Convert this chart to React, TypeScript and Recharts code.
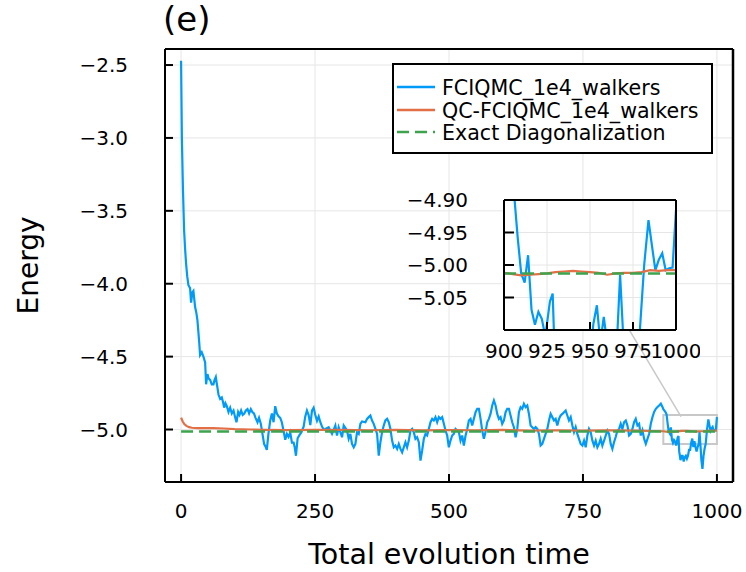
import { LineChart, Line, XAxis, YAxis, CartesianGrid, ReferenceArea, ReferenceLine } from 'recharts';

// [time, energy] pairs
const fciqmc: [number, number][] = [
  [0, -2.47], [1.5, -3.0], [3.5, -3.35], [5.6, -3.63], [7.5, -3.76], [9.3, -3.86], [11.5, -3.95], [13.7, -4.01],
  [16.8, -4.03], [18.7, -4.13], [21, -4.06], [23, -4.05], [26.2, -4.16], [28.5, -4.2], [30.5, -4.25], [33.6, -4.39],
  [35.5, -4.49], [38.6, -4.47], [41.7, -4.5], [44.9, -4.54], [46.7, -4.69], [49.2, -4.62], [51.5, -4.65], [54.2, -4.66],
  [57.3, -4.69], [60.4, -4.69], [62.5, -4.66], [64.8, -4.64], [67.3, -4.7], [69.8, -4.76], [72.9, -4.79], [76, -4.78],
  [78.2, -4.81], [80.4, -4.85], [82.8, -4.82], [85.4, -4.84], [88.5, -4.88], [91.6, -4.85], [94.7, -4.89], [97.9, -4.87],
  [100.5, -4.91], [103.4, -4.95], [106.5, -4.88], [109, -4.9], [112, -4.87], [115, -4.9], [118, -4.89], [120.9, -4.87],
  [124, -4.86], [127, -4.89], [130.2, -4.86], [133, -4.88], [136, -4.89], [139, -4.92], [142.6, -4.95], [145.5, -4.92],
  [148.8, -4.96], [151.9, -5.03], [155, -5.1], [158, -5.12], [160, -5.14], [163, -5.03], [166.3, -4.94], [169.5, -4.89],
  [172.6, -4.95], [175.7, -4.84], [178.8, -4.89], [181.9, -4.91], [185, -4.92], [188, -4.95], [191.3, -5.01], [194.4, -5.07],
  [197.5, -5.03], [200.6, -5.05], [203.7, -5.02], [206.9, -5.09], [210, -5.09], [212, -5.12], [214.4, -5.18], [217.5, -5.06],
  [220.6, -5.04], [224.4, -5.02], [228.7, -4.98], [231.8, -4.91], [234.9, -4.87], [238, -4.9], [241.2, -4.97], [244.3, -4.87],
  [247.4, -4.85], [250.5, -4.9], [253.7, -4.94], [256.8, -4.91], [259.9, -4.95], [263, -4.98], [266.2, -5.0],
  [269.2, -4.996], [275.4, -4.984], [281.7, -5.03], [287.9, -4.973], [291, -5.041], [294.1, -4.984], [300.4, -5.053],
  [303.5, -4.973], [309.7, -5.007], [312.8, -5.064], [315.9, -5.03], [319, -5.099], [322.2, -5.122], [325.3, -5.099],
  [328.4, -5.018], [331.5, -5.03], [334.6, -4.961], [337.7, -4.945], [344, -4.95], [347.1, -4.927], [350.2, -4.915],
  [353.3, -4.904], [356.4, -4.938], [359.5, -4.961], [362.7, -4.996], [365.8, -5.03], [368.9, -5.179], [372, -5.087],
  [375.1, -5.018], [378.2, -4.973], [381.3, -4.938], [384.5, -4.927], [387.6, -4.95], [390.7, -4.996], [393.8, -5.076],
  [396.9, -5.122], [400, -5.11], [403.2, -5.133], [406.3, -5.099], [409.4, -5.133], [412.5, -5.156], [415.6, -5.122],
  [418.7, -5.087], [421.8, -5.122], [425, -5.076], [428.1, -5.007], [431.2, -4.996], [434.3, -5.018], [437.4, -5.064],
  [440.5, -5.053], [443.7, -5.087], [446.8, -5.213], [449.9, -5.144], [453, -5.064], [456.1, -5.03], [459.2, -5.041],
  [462.3, -4.996], [465.5, -4.95], [468.6, -4.927], [471.7, -4.938], [474.8, -4.915], [477.9, -4.95], [481, -4.915],
  [484.1, -4.927], [487.3, -4.915], [490.4, -4.961], [493.5, -5.007], [496.6, -5.041], [499.7, -5.122], [502.8, -5.076],
  [505.9, -5.041], [509, -5.03], [512.2, -4.996], [515.3, -5.007], [518.4, -5.018], [521.5, -5.076], [524.6, -5.041],
  [527.7, -5.11], [530.9, -5.041], [534, -4.996], [537.1, -4.938], [540.2, -4.927], [543.3, -4.973], [546.4, -4.927],
  [549.6, -4.881], [552.7, -4.858], [555.8, -4.858], [558.9, -4.927], [562, -5.007], [565.1, -5.064], [568.2, -5.018],
  [571.3, -4.95], [574.4, -4.927], [577.5, -4.893], [580.7, -4.835], [583.8, -4.801], [586.9, -4.835], [590, -4.893],
  [593.1, -4.927], [596.2, -4.915], [599.3, -4.961], [602.5, -4.938], [605.6, -4.881], [608.7, -4.858], [611.8, -4.858],
  [614.9, -4.904], [618, -4.95], [621.1, -4.984], [624.3, -5.053], [627.4, -4.996], [630.5, -4.881], [633.6, -4.847],
  [636.7, -4.858], [639.8, -4.824], [643, -4.847], [646.1, -4.835], [649.2, -4.893], [652.3, -4.973], [655.4, -4.984],
  [658.5, -4.996], [661.6, -4.984], [664.8, -4.996], [667.9, -5.03], [671, -5.11], [674.1, -5.099], [677.2, -5.064],
  [680.3, -5.03], [683.5, -4.996], [686.6, -4.938], [689.7, -4.893], [692.8, -4.915], [695.9, -4.938], [699, -4.927],
  [702.1, -4.973], [705.3, -4.927], [708.4, -4.904], [711.5, -4.893], [714.6, -4.881], [717.7, -4.87], [720.8, -4.904],
  [723.9, -4.938], [727.1, -4.915], [730.2, -4.973], [733.3, -5.018], [736.4, -4.984], [739.5, -5.03], [742.6, -5.064],
  [745.7, -5.099], [748.9, -5.11], [752, -5.076], [755.1, -5.122], [758.2, -5.041], [761.3, -4.996], [764.4, -5.018],
  [767.6, -5.076], [770.7, -5.11], [773.8, -5.076], [776.9, -5.122], [780, -5.099], [783.1, -5.064], [786.2, -5.11],
  [789.4, -5.076], [792.5, -5.041], [795.6, -5.007], [798.7, -5.03], [801.8, -5.099], [804.9, -5.133], [808, -5.087],
  [811.2, -5.05], [814.3, -5.007], [817.4, -4.996], [820.5, -4.961], [823.6, -4.996], [826.7, -4.95], [829.9, -4.938],
  [833, -4.973], [836.1, -5.041], [839.2, -5.03], [842.3, -4.996], [845.4, -4.95], [848.5, -4.927], [851.7, -4.972],
  [854.8, -4.961], [857.9, -5.041], [861, -5.006], [864.2, -5.064], [867.3, -5.098], [870.4, -5.064], [873.5, -5.029],
  [876.6, -4.961], [879.7, -4.915], [882.8, -4.88], [886, -4.858], [889.1, -4.846], [892.2, -4.835], [895.3, -4.823],
  [898.4, -4.846], [900, -4.86], [902, -4.87], [904, -4.88], [906, -4.895], [908, -4.959], [910, -5.013], [912, -5.027],
  [914, -4.985], [916, -5.069], [918, -5.092], [920, -5.072], [922, -5.083], [924, -5.11], [926.7, -5.056], [928.3, -5.044],
  [929.6, -5.15], [932, -5.21], [934, -5.18], [936, -5.18], [938, -5.22], [940, -5.19], [942, -5.18], [944, -5.2],
  [946, -5.18], [948, -5.14], [950, -5.14], [952, -5.09], [954, -5.062], [956, -5.12], [958, -5.08], [960, -5.12],
  [962, -5.15], [964, -5.12], [966, -5.1], [967.5, -5.015], [969.5, -5.12], [971, -5.21], [973, -5.27], [975, -5.18],
  [977, -5.13], [979, -5.1], [981.5, -5.0], [984, -4.931], [986, -4.97], [988, -5.008], [990, -4.992], [992, -4.982],
  [994, -5.008], [996, -5.005], [998, -5.004], [1000, -4.915],
];

const qcFciqmc: [number, number][] = [
  [0, -4.918], [3, -4.945], [6, -4.963], [10, -4.975], [15, -4.984], [20, -4.988], [30, -4.99], [40, -4.991],
  [60, -4.99], [80, -4.993], [100, -4.997], [130, -5.0], [160, -5.003], [200, -5.004], [250, -5.003], [300, -5.002],
  [350, -5.005], [400, -5.003], [450, -5.006], [500, -5.004], [550, -5.005], [600, -5.003], [650, -5.008], [700, -5.005],
  [750, -5.007], [800, -5.006], [850, -5.008], [900, -5.012], [905, -5.014], [910, -5.016], [915, -5.015], [920, -5.014],
  [925, -5.013], [930, -5.011], [935, -5.01], [940, -5.009], [945, -5.01], [950, -5.011], [955, -5.012], [960, -5.015],
  [965, -5.013], [970, -5.012], [975, -5.012], [980, -5.011], [985, -5.008], [990, -5.009], [995, -5.008], [1000, -5.008],
];

const exactEnergy = -5.013;
const exactSpan = [0, 1000];

const mainXTicks = [0, 250, 500, 750, 1000];
const mainYTicks = [-5.0, -4.5, -4.0, -3.5, -3.0, -2.5];
const insetXTicks = [900, 925, 950, 975, 1000];
const insetYTicks = [-5.05, -5.0, -4.95, -4.9];

const lensBox = { x1: 900, x2: 1000, y1: -5.1, y2: -4.9 };
const lensLink = [{ x: 837, y: -4.32 }, { x: 933, y: -4.911 }];

const seriesNames = ['FCIQMC_1e4_walkers', 'QC-FCIQMC_1e4_walkers', 'Exact Diagonalization'];

const BLUE = '#009af9';
const ORANGE = '#e26f46';
const GREEN = '#3da44d';
const GRID = '#e6e6e6';
const FONT = "'DejaVu Sans', sans-serif";

const toRows = (pairs: [number, number][]) => pairs.map(([t, e]) => ({ t, e }));
const fciqmcData = toRows(fciqmc);
const qcData = toRows(qcFciqmc);
const exactData = exactSpan.map(t => ({ t, e: exactEnergy }));

const minus = (s: string) => s.replace('-', '\u2212');
const tickStyle = { fill: '#000', fontSize: 20, fontFamily: FONT };
const frame = { stroke: '#000', strokeWidth: 2 };

const TitleLabel = (props: any) => {
  const { x, y, height } = props.viewBox;
  return <text x={x - 2} y={y + height - 18} fontSize={34} fontFamily={FONT} fill="#000">(e)</text>;
};

const XLabel = (props: any) => {
  const { x, y, width } = props.viewBox;
  return <text x={x + width / 2} y={y + 82} textAnchor="middle" fontSize={28.5} fontFamily={FONT} fill="#000">Total evolution time</text>;
};

const YLabel = (props: any) => {
  const { x, y, width, height } = props.viewBox;
  const cx = x + width - 137;
  const cy = y + height / 2;
  return (
    <text x={cx} y={cy} transform={`rotate(-90, ${cx}, ${cy})`} textAnchor="middle" dominantBaseline="central"
      fontSize={28} fontFamily={FONT} fill="#000">Energy</text>
  );
};

function Legend() {
  const colors = [BLUE, ORANGE, GREEN];
  const rows = [24, 47, 69];
  return (
    <svg width={321} height={91} style={{ position: 'absolute', left: 392, top: 63 }}>
      <rect x={1} y={1} width={319} height={89} fill="#fff" stroke="#000" strokeWidth={2} />
      {seriesNames.map((name, i) => (
        <g key={name}>
          <line x1={5} x2={43} y1={rows[i]} y2={rows[i]} stroke={colors[i]} strokeWidth={2.5}
            strokeDasharray={i === 2 ? '12 6' : undefined} />
          <text x={50} y={rows[i] + 8} fontSize={20.6} fontFamily={FONT} fill="#000">{name}</text>
        </g>
      ))}
    </svg>
  );
}

export default function App() {
  return (
    <div style={{ position: 'absolute', left: 0, top: 0, width: 746, height: 572, background: '#fff' }}>
      <LineChart width={746} height={572} margin={{ top: 48, right: 12, bottom: 89, left: 164 }}>
        <CartesianGrid stroke={GRID} strokeWidth={1} />
        <XAxis type="number" dataKey="t" domain={[-30, 1030]} ticks={mainXTicks} interval={0} height={1}
          tickSize={-8} tickMargin={30} axisLine={frame} tickLine={frame} tick={tickStyle}
          label={<XLabel />} />
        <YAxis type="number" dataKey="e" domain={[-5.36, -2.39]} ticks={mainYTicks} interval={0} width={1}
          tickSize={-8} tickMargin={45} axisLine={frame} tickLine={frame} tick={tickStyle}
          tickFormatter={(v: number) => minus(v.toFixed(1))} label={<YLabel />} />
        <XAxis xAxisId="top" orientation="top" type="number" domain={[0, 1]} height={1} tick={false}
          tickLine={false} axisLine={frame} label={<TitleLabel />} />
        <YAxis yAxisId="right" orientation="right" type="number" domain={[0, 1]} width={1} tick={false}
          tickLine={false} axisLine={{ stroke: '#000', strokeWidth: 2.5 }} />
        <Line data={fciqmcData} dataKey="e" stroke={BLUE} strokeWidth={2.2} dot={false} isAnimationActive={false} />
        <Line data={qcData} dataKey="e" stroke={ORANGE} strokeWidth={2.2} dot={false} isAnimationActive={false} />
        <Line data={exactData} dataKey="e" stroke={GREEN} strokeWidth={2.5} strokeDasharray="12 6" dot={false}
          isAnimationActive={false} />
        <ReferenceArea x1={lensBox.x1} x2={lensBox.x2} y1={lensBox.y1} y2={lensBox.y2} fill="none" fillOpacity={0}
          stroke="#c8c8c8" strokeWidth={2} />
        <ReferenceLine segment={lensLink} stroke="#c8c8c8" strokeWidth={1.5} />
      </LineChart>

      <div style={{ position: 'absolute', left: 380, top: 180 }}>
        <LineChart width={320} height={200} margin={{ top: 19, right: 23, bottom: 49, left: 123 }}>
          <CartesianGrid stroke={GRID} strokeWidth={1} fill="#fff" fillOpacity={1} />
          <XAxis type="number" dataKey="t" domain={[900, 1000]} ticks={insetXTicks} interval={0} height={1}
            allowDataOverflow tickSize={-8} tickMargin={22} axisLine={frame} tickLine={frame} tick={tickStyle} />
          <YAxis type="number" dataKey="e" domain={[-5.1, -4.9]} ticks={insetYTicks} interval={0} width={1}
            allowDataOverflow tickSize={-10} tickMargin={46} axisLine={frame} tickLine={frame} tick={tickStyle}
            tickFormatter={(v: number) => minus(v.toFixed(2))} />
          <XAxis xAxisId="top" orientation="top" type="number" domain={[0, 1]} height={1} tick={false}
            tickLine={false} axisLine={frame} />
          <YAxis yAxisId="right" orientation="right" type="number" domain={[0, 1]} width={1} tick={false}
            tickLine={false} axisLine={frame} />
          <Line data={fciqmcData} dataKey="e" stroke={BLUE} strokeWidth={2.2} dot={false} isAnimationActive={false} />
          <Line data={qcData} dataKey="e" stroke={ORANGE} strokeWidth={2.2} dot={false} isAnimationActive={false} />
          <Line data={exactData} dataKey="e" stroke={GREEN} strokeWidth={2.5} strokeDasharray="12 6" dot={false}
            isAnimationActive={false} />
        </LineChart>
      </div>

      <Legend />
    </div>
  );
}
